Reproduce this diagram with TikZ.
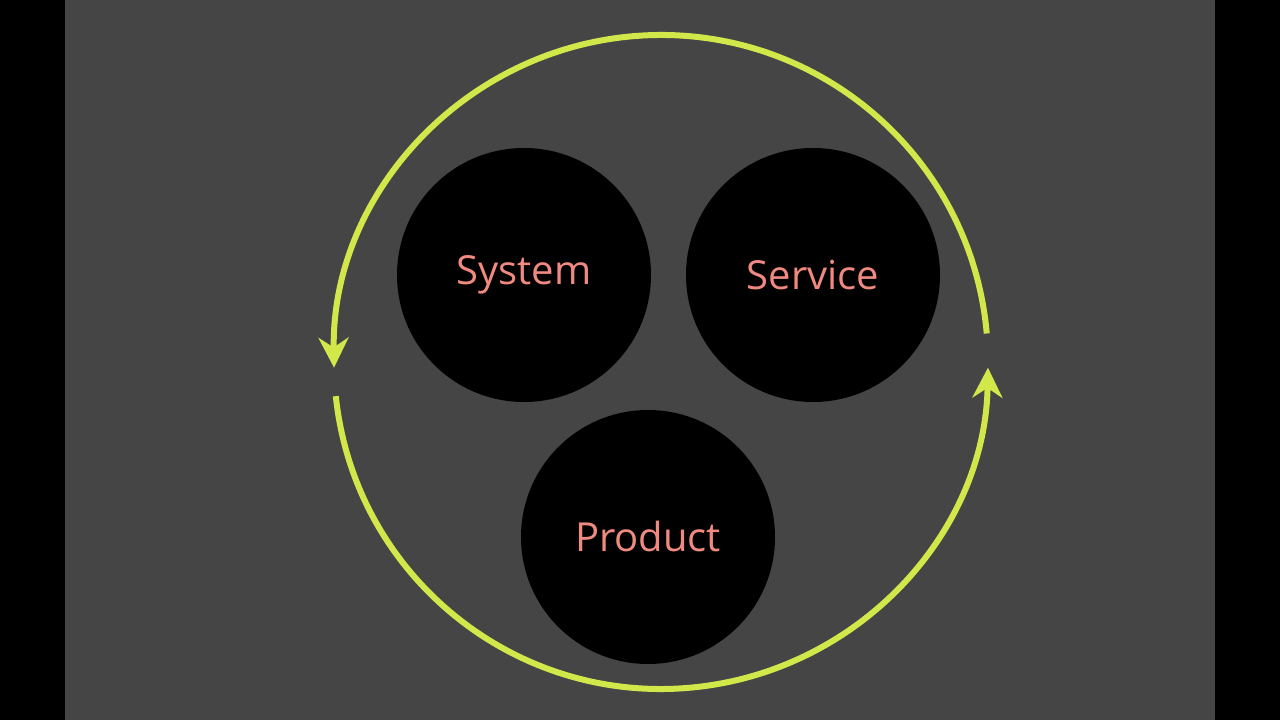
\documentclass[tikz,border=0pt]{standalone}
\usepackage{fontspec}
\setmainfont{Open Sans}
\usetikzlibrary{arrows.meta}
\definecolor{bg}{HTML}{454545}
\definecolor{arc}{HTML}{D2E84A}
\definecolor{txt}{HTML}{F08A80}
\begin{document}
\begin{tikzpicture}[x=1pt,y=1pt,
  blob/.style={circle,fill=black,minimum size=254pt,inner sep=0pt,text=txt,font=\fontsize{40}{40}\selectfont},
  cyc/.style={draw=arc,line width=6pt,-{Stealth[length=30pt,width=30pt]}}]
\fill[black] (0,0) rectangle (1280,720);
\fill[bg] (65,0) rectangle (1215,720);
\useasboundingbox (0,0) rectangle (1280,720);
\coordinate (c) at (661,358);
\node[blob] (sys) at (524,445) {System};
\node[blob] (ser) at (813,445) {Service};
\node[blob] (pro) at (648,183) {Product};
\draw[cyc] ([shift={(5:327)}]c) arc[start angle=5,end angle=181,radius=327];
\draw[cyc] ([shift={(186:327)}]c) arc[start angle=186,end angle=359,radius=327];
\end{tikzpicture}
\end{document}
